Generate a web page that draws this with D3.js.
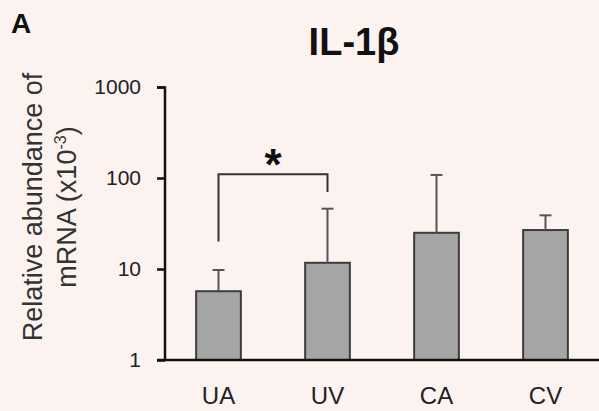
<!DOCTYPE html>
<html><head><meta charset="utf-8">
<script src="https://cdn.jsdelivr.net/npm/d3@7"></script>
<style>body{margin:0;background:#fcf3f0;}svg{display:block;}</style>
</head><body>
<script>
const categories = ["UA", "UV", "CA", "CV"];
const means = [5.7, 11.7, 25, 26.8];
const errUpper = [9.75, 46, 108, 38.9];
const yTicks = [1, 10, 100, 1000];
const sigPair = ["UA", "UV"];
const sigBracket = {top: 110, leftEnd: 20, rightEnd: 70};

const W = 599, H = 411;
const svg = d3.select("body").append("svg").attr("width", W).attr("height", H);
svg.append("rect").attr("width", W).attr("height", H).attr("fill", "#fcf3f0");

const y = d3.scaleLog().domain([1, 1000]).range([360, 87]);
const x = d3.scaleBand().domain(categories).range([164, 600]).paddingInner(0.59).paddingOuter(0.295);

// bars
svg.selectAll("rect.bar").data(categories).enter().append("rect")
  .attr("x", d => x(d)).attr("width", x.bandwidth())
  .attr("y", (d, i) => y(means[i])).attr("height", (d, i) => y(1) - y(means[i]))
  .attr("fill", "#a6a6a6").attr("stroke", "#3c3c3c").attr("stroke-width", 2);

// error bars
const eg = svg.selectAll("g.err").data(categories).enter().append("g");
eg.append("line")
  .attr("x1", d => x(d) + x.bandwidth() / 2).attr("x2", d => x(d) + x.bandwidth() / 2)
  .attr("y1", (d, i) => y(means[i])).attr("y2", (d, i) => y(errUpper[i]))
  .attr("stroke", "#555").attr("stroke-width", 2);
eg.append("line")
  .attr("x1", d => x(d) + x.bandwidth() / 2 - 6).attr("x2", d => x(d) + x.bandwidth() / 2 + 6)
  .attr("y1", (d, i) => y(errUpper[i])).attr("y2", (d, i) => y(errUpper[i]))
  .attr("stroke", "#555").attr("stroke-width", 2);

const FF = "Liberation Sans, Arial, sans-serif";
// y axis
const yAxis = d3.axisLeft(y).tickValues(yTicks).tickFormat(d3.format("d")).tickSize(8).tickPadding(16);
const ga = svg.append("g").attr("transform", "translate(165,0)").call(yAxis);
ga.select(".domain").attr("stroke", "#111").attr("stroke-width", 2.5).attr("d", "M-8,87.5H0V360");
ga.selectAll(".tick line").attr("stroke", "#111").attr("stroke-width", 2.5);
ga.selectAll(".tick text").attr("fill", "#222").style("font-family", FF).style("font-size", "21px");

// x axis
const xAxis = d3.axisBottom(x).tickSize(0).tickPadding(27);
const gx = svg.append("g").attr("transform", "translate(0,360)").call(xAxis);
gx.select(".domain").attr("stroke", "#111").attr("stroke-width", 2.5).attr("d", "M157,0H599");
gx.selectAll(".tick text").attr("fill", "#222").style("font-family", FF).style("font-size", "24px");

// significance bracket
const bx1 = x(sigPair[0]) + x.bandwidth() / 2, bx2 = x(sigPair[1]) + x.bandwidth() / 2;
svg.append("path")
  .attr("d", `M${bx1},${y(sigBracket.leftEnd)}V${y(sigBracket.top)}H${bx2}V${y(sigBracket.rightEnd)}`)
  .attr("fill", "none").attr("stroke", "#333").attr("stroke-width", 2);
svg.append("text").attr("x", (bx1 + bx2) / 2).attr("y", 180).attr("text-anchor", "middle")
  .style("font-family", FF).style("font-weight", "bold").style("font-size", "44px")
  .attr("fill", "#111").text("*");

// title
svg.append("text").attr("x", 354).attr("y", 55).attr("text-anchor", "middle")
  .style("font-family", FF).style("font-weight", "bold").style("font-size", "38px")
  .attr("fill", "#111").text("IL-1β");
svg.append("text").attr("x", 11).attr("y", 33)
  .style("font-family", FF).style("font-weight", "bold").style("font-size", "28px")
  .attr("fill", "#111").text("A");

// y label
const yl = svg.append("text").attr("transform", "translate(42,207) rotate(-90)").attr("text-anchor", "middle")
  .style("font-family", FF).style("font-size", "27px").attr("fill", "#333");
yl.append("tspan").attr("x", 0).attr("y", 0).text("Relative abundance of");
const l2 = yl.append("tspan").attr("x", 0).attr("y", 34);
l2.append("tspan").text("mRNA (x10");
l2.append("tspan").attr("dy", -10).style("font-size", "16px").text("-3");
l2.append("tspan").attr("dy", 10).text(")");
</script>
</body></html>
